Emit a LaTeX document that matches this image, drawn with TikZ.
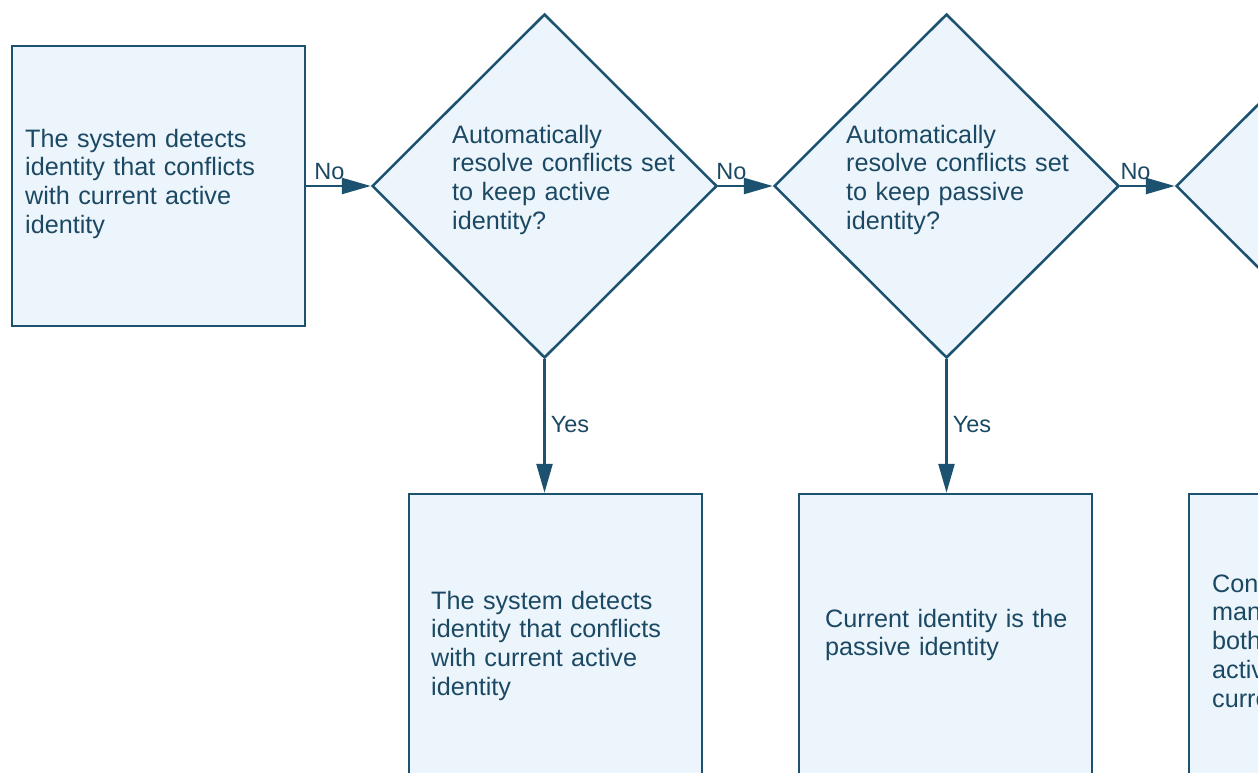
\documentclass[tikz,border=0pt]{standalone}
\usepackage{fontspec}
\setmainfont{Liberation Sans}
\usetikzlibrary{shapes.geometric,arrows.meta}
\definecolor{edge}{HTML}{1C5270}
\definecolor{fillc}{HTML}{EDF5FC}
\definecolor{txt}{HTML}{1B4963}
\tikzset{
  box/.style={draw=edge, fill=fillc, line width=2.5pt, rectangle, minimum width=293pt, minimum height=280pt, inner sep=0pt},
  dia/.style={draw=edge, fill=fillc, line width=2.5pt, diamond, minimum width=345pt, minimum height=344pt, inner sep=0pt},
  body/.style={text=txt, font=\fontsize{25.2}{28.8}\selectfont, align=left, text width=300pt, inner sep=0pt, anchor=base west},
  lbl/.style={text=txt, font=\fontsize{23.5}{26}\selectfont, inner sep=2pt},
  conn/.style={draw=edge, line width=2.5pt, -{Triangle[length=29pt,width=16pt]}}
}
\begin{document}
\begin{tikzpicture}[x=1pt,y=-1pt]
\useasboundingbox (0,0) rectangle (1258,773);
\clip (0,0) rectangle (1258,773);
\fill[white] (0,0) rectangle (1258,773);
% shapes
\node[box] (A) at (158.5,186) {};
\node[dia] (D1) at (544.5,186) {};
\node[dia] (D2) at (946.5,186) {};
\node[dia] (D3) at (1348.5,186) {};
\node[box] (B) at (555.5,634) {};
\node[box] (C) at (945.5,634) {};
\node[box] (D) at (1335.5,634) {};
% texts
\node[body] (tA) at (25,147) {The system detects\\identity that conflicts\\with current active\\identity};
\node[body] (tD1) at (452,143) {Automatically\\resolve conflicts set\\to keep active\\identity?};
\node[body] (tD2) at (846,143) {Automatically\\resolve conflicts set\\to keep passive\\identity?};
\node[body] (tB) at (431,609) {The system detects\\identity that conflicts\\with current active\\identity};
\node[body] (tC) at (825,627) {Current identity is the\\passive identity};
\node[body] (tD) at (1212,592) {Conflicts must be\\manually resolved;\\both identities are\\active and the\\current identity};
% connectors
\draw[conn] (A.east) -- node[lbl, pos=0.36, above, yshift=3pt] (n1) {No} (D1.west);
\draw[conn] (D1.east) -- node[lbl, pos=0.24, above, yshift=3pt] (n2) {No} (D2.west);
\draw[conn] (D2.east) -- node[lbl, pos=0.28, above, yshift=3pt] (n3) {No} (D3.west);
\draw[conn] (D1.south) -- node[lbl, pos=0.49, right, xshift=3pt] (y1) {Yes} (D1.south |- B.north);
\draw[conn] (D2.south) -- node[lbl, pos=0.49, right, xshift=3pt] (y2) {Yes} (D2.south |- C.north);
\end{tikzpicture}
\end{document}
